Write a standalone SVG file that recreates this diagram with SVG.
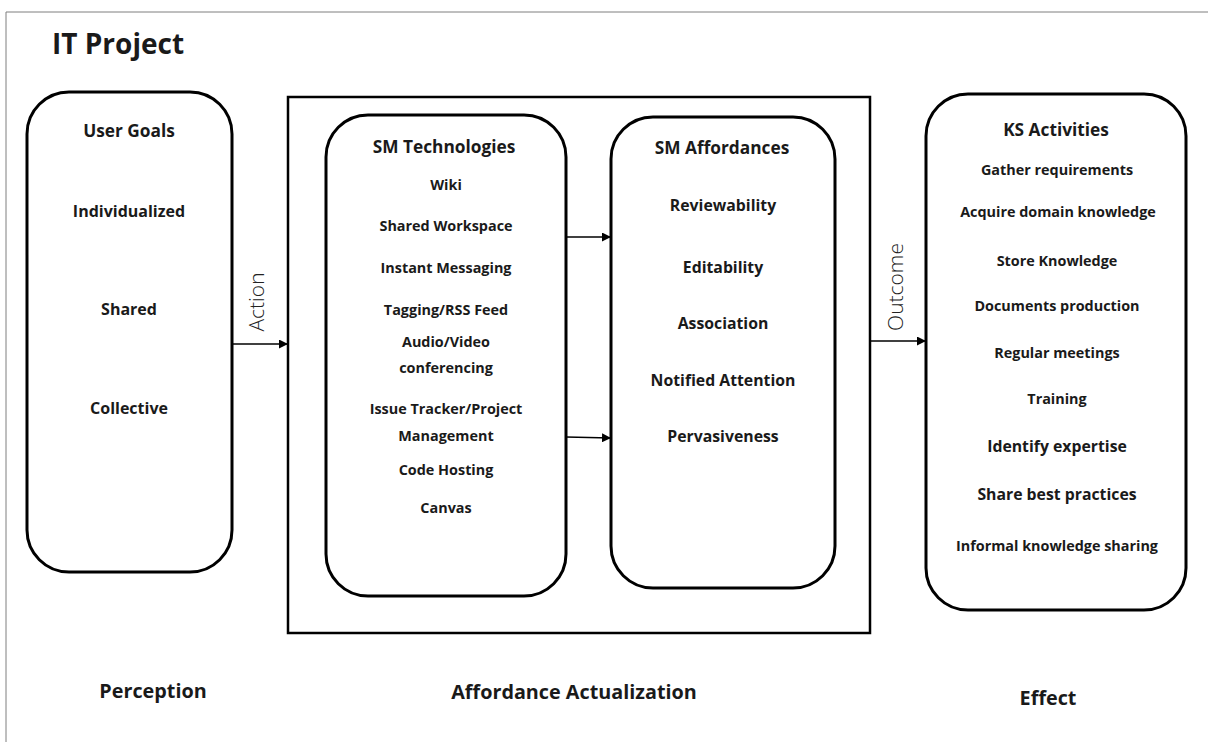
<svg xmlns="http://www.w3.org/2000/svg" width="1208" height="742" viewBox="0 0 1208 742">
<defs>
<marker id="ah" viewBox="0 0 10 10" refX="10" refY="5" markerWidth="9" markerHeight="9" markerUnits="userSpaceOnUse" orient="auto">
<path d="M0,0 L10,5 L0,10 z" fill="#000"/>
</marker>
<style>
text{font-family:"Open Sans","Noto Sans",sans-serif;font-weight:bold;fill:#1a1a1a;text-anchor:middle}
.box{fill:#fff;stroke:#000;stroke-width:3}
.h{font-size:17.3px}
.i{font-size:14.4px}
.u{font-size:16px}
.a{font-size:15.8px}
.b{font-size:19.8px}
.lbl{font-weight:300;font-size:21px;fill:#222}
.con{stroke:#000;stroke-width:1.3;fill:none;marker-end:url(#ah)}
</style>
</defs>
<rect x="0" y="0" width="1208" height="742" fill="#fff"/>
<path d="M6,742 V12 H1208" fill="none" stroke="#7f7f7f" stroke-width="1"/>
<text x="52" y="54" style="font-size:28px;text-anchor:start">IT Project</text>

<g id="user-goals">
<rect class="box" x="27" y="92" width="205" height="480" rx="42"/>
<text class="h" x="129" y="137">User Goals</text>
<text class="u" x="129" y="217">Individualized</text>
<text class="u" x="129" y="315">Shared</text>
<text class="u" x="129" y="414">Collective</text>
</g>

<g id="affordance-actualization">
<rect x="288" y="97" width="582" height="536" fill="none" stroke="#000" stroke-width="2.5"/>
</g>

<g id="sm-technologies">
<rect class="box" x="326" y="115" width="240" height="481" rx="42"/>
<text class="h" x="444" y="153">SM Technologies</text>
<text class="i" x="446" y="190">Wiki</text>
<text class="i" x="446" y="231">Shared Workspace</text>
<text class="i" x="446" y="273">Instant Messaging</text>
<text class="i" x="446" y="315">Tagging/RSS Feed</text>
<text class="i" x="446" y="347">Audio/Video</text>
<text class="i" x="446" y="373">conferencing</text>
<text class="i" x="446" y="414">Issue Tracker/Project</text>
<text class="i" x="446" y="441">Management</text>
<text class="i" x="446" y="475">Code Hosting</text>
<text class="i" x="446" y="513">Canvas</text>
</g>

<g id="sm-affordances">
<rect class="box" x="611" y="117" width="224" height="471" rx="42"/>
<text class="h" x="722" y="154">SM Affordances</text>
<text class="a" x="723" y="211">Reviewability</text>
<text class="a" x="723" y="273">Editability</text>
<text class="a" x="723" y="329">Association</text>
<text class="a" x="723" y="386">Notified Attention</text>
<text class="a" x="723" y="442">Pervasiveness</text>
</g>

<g id="ks-activities">
<rect class="box" x="926" y="94" width="260" height="516" rx="42"/>
<text class="h" x="1056" y="136">KS Activities</text>
<text class="i" x="1057" y="175">Gather requirements</text>
<text class="i" x="1058" y="217">Acquire domain knowledge</text>
<text class="i" x="1057" y="266">Store Knowledge</text>
<text class="i" x="1057" y="311">Documents production</text>
<text class="i" x="1057" y="358">Regular meetings</text>
<text class="i" x="1057" y="404">Training</text>
<text class="a" x="1057" y="452">Identify expertise</text>
<text class="a" x="1057" y="500">Share best practices</text>
<text class="i" x="1057" y="551">Informal knowledge sharing</text>
</g>

<g id="connectors">
<line class="con" x1="232" y1="344" x2="288" y2="344"/>
<line class="con" x1="566" y1="237" x2="611" y2="237"/>
<line class="con" x1="566" y1="437" x2="611" y2="438"/>
<line class="con" x1="870" y1="341" x2="926" y2="341"/>
<text class="lbl" transform="translate(264,302) rotate(-90)">Action</text>
<text class="lbl" transform="translate(903,287) rotate(-90)">Outcome</text>
</g>

<text class="b" x="153" y="698">Perception</text>
<text class="b" x="574" y="699">Affordance Actualization</text>
<text class="b" x="1048" y="705">Effect</text>
</svg>
